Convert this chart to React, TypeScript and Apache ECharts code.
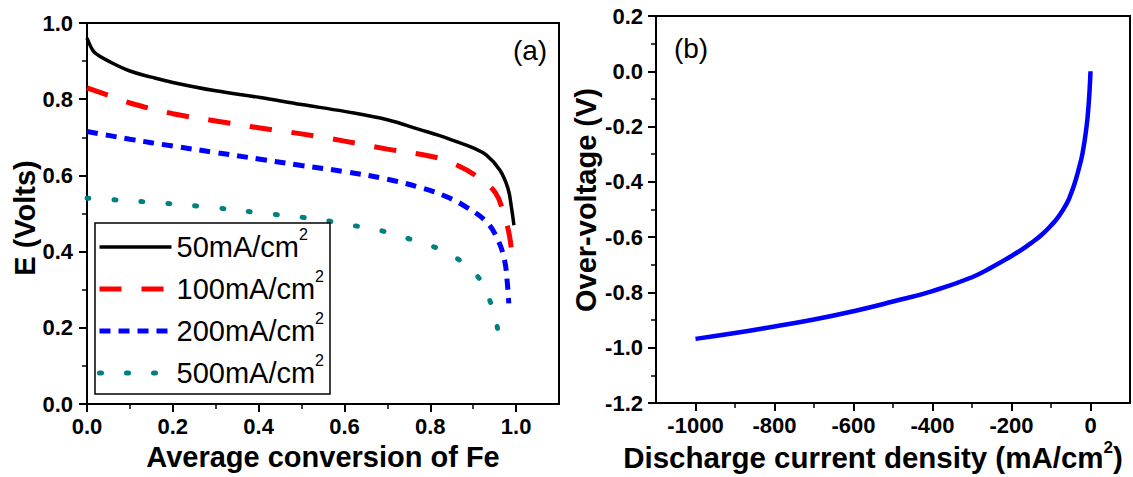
import React, { useEffect, useRef } from "react";
import * as echarts from "echarts";

// ---- Panel (a): E (Volts) vs average conversion of Fe ----
const seriesNames = ["50mA/cm²", "100mA/cm²", "200mA/cm²", "500mA/cm²"];

const curve50: [number, number][] = [
  [0, 0.96], [0.01, 0.935], [0.02, 0.92], [0.05, 0.9], [0.1, 0.874], [0.15, 0.858],
  [0.2, 0.844], [0.3, 0.822], [0.4, 0.805], [0.5, 0.786], [0.6, 0.768], [0.7, 0.746],
  [0.776, 0.72], [0.82, 0.705], [0.853, 0.692], [0.9, 0.672], [0.931, 0.653],
  [0.962, 0.614], [0.981, 0.566], [0.989, 0.517], [0.995, 0.469],
];
const curve100: [number, number][] = [
  [0, 0.83], [0.05, 0.81], [0.1, 0.79], [0.2, 0.762], [0.3, 0.743], [0.4, 0.725],
  [0.5, 0.709], [0.6, 0.69], [0.7, 0.669], [0.806, 0.649], [0.853, 0.632],
  [0.908, 0.598], [0.952, 0.554], [0.973, 0.491], [0.985, 0.439], [0.993, 0.36],
];
const curve200: [number, number][] = [
  [0, 0.715], [0.05, 0.705], [0.1, 0.695], [0.2, 0.677], [0.3, 0.66], [0.4, 0.643],
  [0.5, 0.626], [0.6, 0.61], [0.7, 0.59], [0.783, 0.566], [0.838, 0.544],
  [0.884, 0.517], [0.931, 0.478], [0.958, 0.43], [0.973, 0.378], [0.979, 0.325],
  [0.983, 0.264],
];
const curve500: [number, number][] = [
  [0, 0.54], [0.064, 0.536], [0.18, 0.527], [0.3, 0.515], [0.4, 0.502], [0.5, 0.49],
  [0.55, 0.483], [0.6, 0.472], [0.67, 0.459], [0.73, 0.44], [0.787, 0.421],
  [0.849, 0.391], [0.908, 0.338], [0.94, 0.268], [0.956, 0.203], [0.963, 0.133],
];

// ---- Panel (b): over-voltage vs discharge current density ----
const currentDensity = [
  -1000, -900, -800, -700, -600, -500, -400, -300, -250, -200, -175, -150, -125,
  -100, -80, -60, -50, -40, -30, -20, -10, -5, -2, 0,
];
const overVoltage = [
  -0.968, -0.947, -0.923, -0.898, -0.868, -0.833, -0.795, -0.745, -0.709, -0.668,
  -0.646, -0.621, -0.593, -0.558, -0.524, -0.478, -0.445, -0.405, -0.355, -0.295,
  -0.2, -0.125, -0.06, 0,
];

// ---- Tick values ----
const leftXMajor = [0, 0.2, 0.4, 0.6, 0.8, 1.0];
const leftXMinor = [0.1, 0.3, 0.5, 0.7, 0.9];
const rightXMajor = [-1000, -800, -600, -400, -200, 0];
const rightXMinor = [-900, -700, -500, -300, -100];

const FONT = 'Arial, "Liberation Sans", sans-serif';

export default function App() {
  const ref = useRef<HTMLDivElement>(null);

  useEffect(() => {
    if (!ref.current) return;
    const chart = echarts.init(ref.current, undefined, { renderer: "svg" });

    const labelStyle = {
      color: "#000",
      fontSize: 22,
      fontWeight: "bold" as const,
      fontFamily: FONT,
    };
    const axisLine = { show: true, onZero: false, lineStyle: { color: "#000", width: 2 } };
    const fmt1 = (v: number) => (Math.abs(v) < 1e-9 ? "0.0" : v.toFixed(1));

    const xMajor = (gridIndex: number, min: number, max: number, values: number[], formatter: any) => ({
      type: "value",
      gridIndex,
      min,
      max,
      position: "bottom",
      axisLine,
      axisTick: { show: true, length: 8, inside: false, customValues: values, lineStyle: { color: "#000", width: 2 } },
      axisLabel: { show: true, margin: 11, customValues: values, formatter, ...labelStyle },
      splitLine: { show: false },
    });
    const xMinor = (gridIndex: number, min: number, max: number, values: number[]) => ({
      type: "value",
      gridIndex,
      min,
      max,
      position: "bottom",
      axisLine: { show: false, onZero: false },
      axisTick: { show: true, length: 5, inside: false, customValues: values, lineStyle: { color: "#000", width: 1.5 } },
      axisLabel: { show: false },
      splitLine: { show: false },
    });

    const option: any = {
      animation: false,
      backgroundColor: "#fff",
      grid: [
        { left: 87, top: 23, width: 472, height: 381, show: true, borderColor: "#000", borderWidth: 2, backgroundColor: "transparent" },
        { left: 656, top: 16, width: 474, height: 387, show: true, borderColor: "#000", borderWidth: 2, backgroundColor: "transparent" },
      ],
      xAxis: [
        xMajor(0, 0, 1.1, leftXMajor, (v: number) => (v > 1.05 ? "" : fmt1(v))),
        xMinor(0, 0, 1.1, leftXMinor),
        xMajor(1, -1100, 100, rightXMajor, (v: number) => String(Math.round(v))),
        xMinor(1, -1100, 100, rightXMinor),
      ],
      yAxis: [
        {
          type: "value",
          gridIndex: 0,
          min: 0,
          max: 1,
          interval: 0.2,
          axisLine,
          axisTick: { show: true, length: 8, lineStyle: { color: "#000", width: 2 } },
          minorTick: { show: true, splitNumber: 2, length: 5, lineStyle: { color: "#000", width: 1.5 } },
          axisLabel: { margin: 14, formatter: fmt1, ...labelStyle },
          splitLine: { show: false },
          minorSplitLine: { show: false },
        },
        {
          type: "value",
          gridIndex: 1,
          min: -1.2,
          max: 0.2,
          interval: 0.2,
          axisLine,
          axisTick: { show: true, length: 8, lineStyle: { color: "#000", width: 2 } },
          minorTick: { show: true, splitNumber: 2, length: 5, lineStyle: { color: "#000", width: 1.5 } },
          axisLabel: { margin: 13, formatter: fmt1, ...labelStyle },
          splitLine: { show: false },
          minorSplitLine: { show: false },
        },
      ],
      legend: {
        show: true,
        orient: "vertical",
        left: 95,
        top: 223,
        padding: [3, 6, 0, 2],
        itemGap: 0,
        itemWidth: 72,
        itemHeight: 14,
        borderColor: "#000",
        borderWidth: 1.5,
        backgroundColor: "#fff",
        selectedMode: false,
        data: seriesNames,
        itemStyle: { opacity: 0 },
        lineStyle: { width: "inherit" },
        formatter: (name: string) => name.replace("²", "") + "{sup|2}",
        textStyle: {
          color: "#000",
          fontSize: 29,
          lineHeight: 42,
          fontFamily: FONT,
          rich: {
            sup: { fontSize: 16, lineHeight: 16, verticalAlign: "top", color: "#000", fontFamily: FONT },
          },
        },
      },
      series: [
        {
          name: seriesNames[0],
          type: "line",
          xAxisIndex: 0,
          yAxisIndex: 0,
          data: curve50,
          symbol: "none",
          smooth: 0.4,
          lineStyle: { color: "#000", width: 3.5 },
          itemStyle: { color: "#000" },
        },
        {
          name: seriesNames[1],
          type: "line",
          xAxisIndex: 0,
          yAxisIndex: 0,
          data: curve100,
          symbol: "none",
          smooth: 0.4,
          lineStyle: { color: "#ff0000", width: 5, type: [22, 20] },
          itemStyle: { color: "#ff0000" },
        },
        {
          name: seriesNames[2],
          type: "line",
          xAxisIndex: 0,
          yAxisIndex: 0,
          data: curve200,
          symbol: "none",
          smooth: 0.4,
          lineStyle: { color: "#0000ff", width: 5, type: [11, 8] },
          itemStyle: { color: "#0000ff" },
        },
        {
          name: seriesNames[3],
          type: "line",
          xAxisIndex: 0,
          yAxisIndex: 0,
          data: curve500,
          symbol: "none",
          smooth: 0.4,
          lineStyle: { color: "#008080", width: 5, type: [2, 25], cap: "round" },
          itemStyle: { color: "#008080" },
        },
        {
          name: "Over-voltage",
          type: "line",
          xAxisIndex: 2,
          yAxisIndex: 1,
          data: currentDensity.map((c, i) => [c, overVoltage[i]]),
          symbol: "none",
          smooth: 0.5,
          lineStyle: { color: "#0000ff", width: 4.5 },
          itemStyle: { color: "#0000ff" },
        },
      ],
      graphic: [
        {
          type: "text",
          x: 530,
          y: 50,
          style: { text: "(a)", fontSize: 28, fontFamily: FONT, fill: "#000", align: "center", verticalAlign: "middle" },
        },
        {
          type: "text",
          x: 691,
          y: 48,
          style: { text: "(b)", fontSize: 28, fontFamily: FONT, fill: "#000", align: "center", verticalAlign: "middle" },
        },
        {
          type: "text",
          x: 25,
          y: 218,
          rotation: Math.PI / 2,
          style: { text: "E (Volts)", fontSize: 29, fontWeight: "bold", fontFamily: FONT, fill: "#000", align: "center", verticalAlign: "middle" },
        },
        {
          type: "text",
          x: 586,
          y: 200,
          rotation: Math.PI / 2,
          style: { text: "Over-voltage (V)", fontSize: 29, fontWeight: "bold", fontFamily: FONT, fill: "#000", align: "center", verticalAlign: "middle" },
        },
        {
          type: "text",
          x: 323,
          y: 457,
          style: { text: "Average conversion of Fe", fontSize: 29, fontWeight: "bold", fontFamily: FONT, fill: "#000", align: "center", verticalAlign: "middle" },
        },
        {
          type: "text",
          x: 873,
          y: 457,
          style: {
            text: "Discharge current density (mA/cm{sup|2})",
            fontSize: 29.5,
            fontWeight: "bold",
            fontFamily: FONT,
            fill: "#000",
            lineHeight: 36,
            align: "center",
            verticalAlign: "middle",
            rich: {
              sup: { fontSize: 17, lineHeight: 18, fontWeight: "bold", fontFamily: FONT, fill: "#000", verticalAlign: "top" },
            },
          },
        },
      ],
    };

    chart.setOption(option);
    return () => chart.dispose();
  }, []);

  return (
    <div
      ref={ref}
      style={{ position: "absolute", left: 0, top: 0, width: 1133, height: 477, background: "#fff" }}
    />
  );
}
